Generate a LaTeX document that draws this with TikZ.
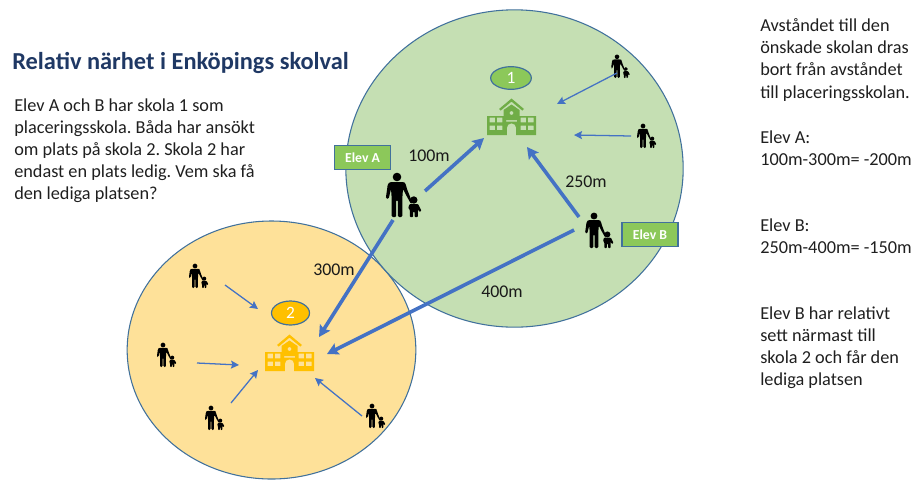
\documentclass[tikz,border=0pt]{standalone}
\usepackage{fontspec}
\setmainfont{Carlito}
\usetikzlibrary{arrows.meta,shapes.geometric}
\definecolor{linkblue}{HTML}{4472C4}
\definecolor{edgeblue}{HTML}{41719C}
\definecolor{zonegreen}{HTML}{C5DFB3}
\definecolor{zoneyellow}{HTML}{FEE199}
\definecolor{schoolgreen}{HTML}{70AD47}
\definecolor{schoolyellow}{HTML}{FFC000}
\definecolor{tagreen}{HTML}{8CC85A}
\definecolor{titleblue}{HTML}{1F3864}
\frenchspacing
\tikzset{
  x=0.75pt,y=-0.75pt,
  zone/.style={ellipse,draw=edgeblue,line width=0.8pt,inner sep=0},
  badge/.style={ellipse,draw=edgeblue,line width=0.9pt,inner sep=0,text=white,font=\fontsize{13}{15}\selectfont},
  tag/.style={draw=edgeblue,line width=0.9pt,fill=tagreen,text=white,minimum width=42pt,minimum height=18.5pt,inner sep=0,font=\fontsize{10.3}{12}\bfseries\selectfont},
  dist/.style={inner sep=0,font=\fontsize{13.4}{15}\selectfont,text=black!90},
  body/.style={inner sep=0,anchor=north west,align=left,font=\fontsize{13.7}{16.6}\selectfont,text=black!88},
  fat/.style={linkblue,line width=2.7pt,-{Stealth[length=8.5pt,width=9pt,inset=1.5pt]}},
  thin/.style={linkblue,line width=0.95pt,-{Stealth[length=6pt,width=6pt,inset=1pt]}},
  pics/family/.style={code={
    \fill (0,-40) circle (4.3);
    \fill[rounded corners=0.9] (-7,-35) -- (7,-35) -- (8.5,-33.5) -- (10,-28) -- (15.5,-14) -- (14,-13) -- (8.5,-23) -- (6,-28) -- (5.4,-20) -- (5.4,0) -- (0.8,0) -- (0.8,-17) -- (-0.8,-17) -- (-0.8,0) -- (-5.4,0) -- (-5.4,-20) -- (-6,-28) -- (-8.4,-18) -- (-11.2,-18.6) -- (-9.2,-33) -- cycle;
    \fill (16.8,-17) circle (3.7);
    \fill[rounded corners=0.6] (12.6,-13) -- (21,-13) -- (24.5,-6.2) -- (22.3,-5) -- (20.8,-8) -- (20.8,0) -- (17.5,0) -- (17.5,-5.5) -- (16.2,-5.5) -- (16.2,0) -- (12.9,0) -- (12.9,-7) -- (11.2,-9) -- cycle;
  }},
  pics/school/.style={code={
    \fill[even odd rule] (-24.5,-19) -- (-8,-19) -- (-8,-25) -- (0,-30.5) -- (8,-25) -- (8,-19) -- (24.5,-19) -- (24.5,0) -- (4.7,0) -- (4.7,-7) arc[start angle=0,end angle=-180,radius=4.7] -- (-4.7,0) -- (-24.5,0) -- cycle
      (-22,-17.3) rectangle (-16.3,-12.7) (-14.7,-17.3) rectangle (-9.2,-12.7)
      (-22,-9.5) rectangle (-16.3,-5) (-14.7,-9.5) rectangle (-9.2,-5)
      (22,-17.3) rectangle (16.3,-12.7) (14.7,-17.3) rectangle (9.2,-12.7)
      (22,-9.5) rectangle (16.3,-5) (14.7,-9.5) rectangle (9.2,-5)
      (0,-22) circle (2) (-5.5,-15) rectangle (5.5,-13.4);
    \fill (-12.5,-26) -- (0,-36.5) -- (12.5,-26) -- (10.8,-24.4) -- (0,-33.4) -- (-10.8,-24.4) -- cycle;
  }},
}
\begin{document}
\begin{tikzpicture}
\useasboundingbox (0,0) rectangle (916,479);
% zones
\node[zone,fill=zoneyellow,minimum width=216.5pt,minimum height=193.5pt] (zoneB) at (271.5,350) {};
\node[zone,fill=zonegreen,minimum width=253pt,minimum height=238pt] (zoneA) at (514.5,168.5) {};
% schools
\pic[fill=schoolgreen] (schoolA) at (511.5,135) {school};
\pic[fill=schoolyellow] (schoolB) at (289.5,371) {school};
\node[badge,fill=tagreen,minimum width=30.5pt,minimum height=17pt] (badgeA) at (511,78) {1};
\node[badge,fill=schoolyellow,minimum width=28.5pt,minimum height=18pt] (badgeB) at (290.5,313) {2};
% people
\pic[fill=black] (elevA) at (397,217) {family};
\pic[fill=black,scale=0.8] (elevB) at (594,248) {family};
\pic[fill=black,scale=0.53] (p1) at (617,78) {family};
\pic[fill=black,scale=0.55] (p2) at (643,148) {family};
\pic[fill=black,scale=0.55] (p3) at (195,288) {family};
\pic[fill=black,scale=0.55] (p4) at (163,367) {family};
\pic[fill=black,scale=0.55] (p5) at (211,430) {family};
\pic[fill=black,scale=0.55] (p6) at (372,428) {family};
% connector ends
\coordinate (a1s) at (425,191); \coordinate (a1e) at (484,138);
\coordinate (b1s) at (579,217); \coordinate (b1e) at (527,147);
\coordinate (a2s) at (393,220); \coordinate (a2e) at (319,337);
\coordinate (b2s) at (574,230); \coordinate (b2e) at (327,354);
\coordinate (p1s) at (617,73);  \coordinate (p1e) at (557,104);
\coordinate (p2s) at (631,136); \coordinate (p2e) at (574,135);
\coordinate (p3s) at (225,285); \coordinate (p3e) at (258,309);
\coordinate (p4s) at (197,363); \coordinate (p4e) at (239,365);
\coordinate (p5s) at (231,403); \coordinate (p5e) at (258,370);
\coordinate (p6s) at (362,416); \coordinate (p6e) at (315,378);
\draw[fat] (a1s) -- (a1e);
\draw[fat] (b1s) -- (b1e);
\draw[fat] (a2s) -- (a2e);
\draw[fat] (b2s) -- (b2e);
\foreach \n in {1,...,6} {\draw[thin] (p\n s) -- (p\n e);}
% tags
\node[tag] (tagA) at (362.5,157.5) {Elev A};
\node[tag] (tagB) at (650,234.5) {Elev B};
% distances
\node[dist] (d100) at (429,156) {100m};
\node[dist] (d250) at (586,182) {250m};
\node[dist] (d300) at (334,270) {300m};
\node[dist] (d400) at (502,292) {400m};
% texts
\node[inner sep=0,anchor=west,text=titleblue,font=\fontsize{18.3}{21}\bfseries\selectfont] (title) at (12,63) {Relativ närhet i Enköpings skolval};
\node[body] (intro) at (14,98.5) {Elev A och B har skola 1 som\\placeringsskola. Båda har ansökt\\om plats på skola 2. Skola 2 har\\endast en plats ledig. Vem ska få\\den lediga platsen?};
\node[body] (rule) at (760,18.5) {Avståndet till den\\önskade skolan dras\\bort från avståndet\\till placeringsskolan.};
\node[body] (calcA) at (760,130.5) {Elev A:\\100m-300m= -200m};
\node[body] (calcB) at (760,218.5) {Elev B:\\250m-400m= -150m};
\node[body] (result) at (760,306.5) {Elev B har relativt\\sett närmast till\\skola 2 och får den\\lediga platsen};
\end{tikzpicture}
\end{document}
